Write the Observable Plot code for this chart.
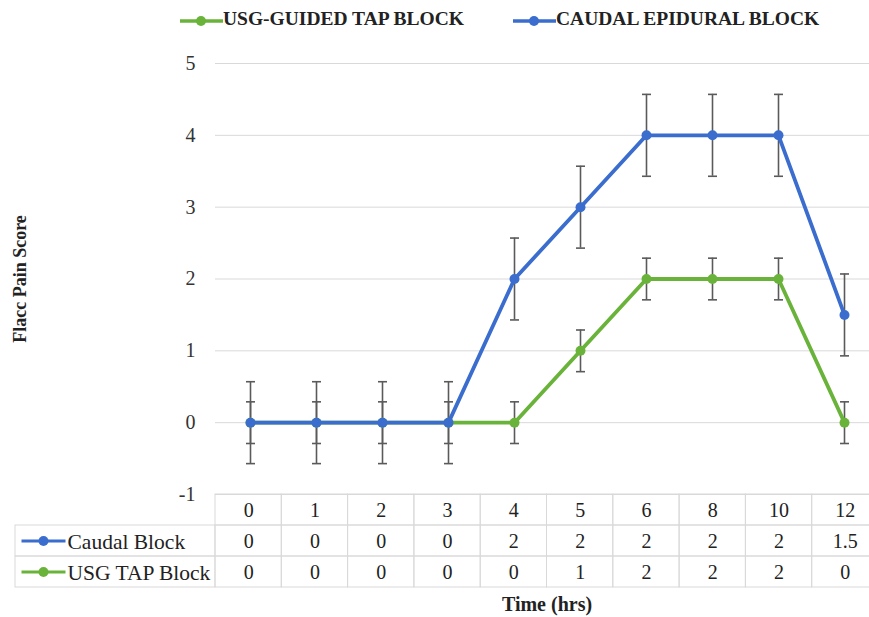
<!DOCTYPE html>
<html><head><meta charset="utf-8">
<script src="https://cdn.jsdelivr.net/npm/d3@7"></script>
<script src="https://cdn.jsdelivr.net/npm/@observablehq/plot@0.6"></script>
<style>
body{margin:0;background:#fff;font-family:"Liberation Serif",serif;}
#wrap{position:relative;width:869px;height:617px;overflow:hidden;background:#fff;}
#legend{position:absolute;left:0;top:0;width:869px;height:40px;}
.sw{position:absolute;top:13px;}
.lt{position:absolute;top:7px;line-height:24px;font-weight:bold;font-size:19.5px;color:#222;white-space:nowrap;}
#main{position:absolute;left:0;top:40px;}
#table{position:absolute;left:0;top:494px;}
#xlabel{position:absolute;top:591px;left:447px;width:200px;line-height:26px;text-align:center;font-weight:bold;font-size:20px;color:#222;}
#ylabel{position:absolute;left:20px;top:279px;transform:translate(-50%,-50%) rotate(-90deg);font-weight:bold;font-size:18px;color:#222;white-space:nowrap;}
</style></head><body>
<div id="wrap">
  <div id="legend"></div>
  <div id="main"></div>
  <div id="ylabel">Flacc Pain Score</div>
  <div id="table"></div>
  <div id="xlabel">Time (hrs)</div>
</div>
<script>
// ---- data ----
const times = ["0","1","2","3","4","5","6","8","10","12"];
const caudalMean = [0, 0, 0, 0, 2, 3, 4, 4, 4, 1.5];
const caudalErr  = [0.57, 0.57, 0.57, 0.57, 0.57, 0.57, 0.57, 0.57, 0.57, 0.57];
const tapMean    = [0, 0, 0, 0, 0, 1, 2, 2, 2, 0];
const tapErr     = [0.29, 0.29, 0.29, 0.29, 0.29, 0.29, 0.29, 0.29, 0.29, 0.29];
const tableCaudal = ["0","0","0","0","2","2","2","2","2","1.5"];
const tableTap    = ["0","0","0","0","0","1","2","2","2","0"];
const yTicks = [-1, 0, 1, 2, 3, 4, 5];
const legendNames = ["USG-GUIDED TAP BLOCK", "CAUDAL EPIDURAL BLOCK"];
const rowLabels = ["Caudal Block", "USG TAP Block"];

// ---- style ----
const BLUE = "#3a6dce", GREEN = "#6ab33a", ERR = "#5a5a5a", GRID = "#d9d9d9";
const FONT = "Liberation Serif";

const caudal = times.map((t, i) => ({t, v: caudalMean[i], e: caudalErr[i]}));
const tap = times.map((t, i) => ({t, v: tapMean[i], e: tapErr[i]}));

const capSymbol = {draw(ctx, size) { const w = Math.sqrt(size / Math.PI); ctx.moveTo(-w, 0); ctx.lineTo(w, 0); }};

function errMarks(data) {
  return [
    Plot.ruleX(data, {x: "t", y1: d => d.v - d.e, y2: d => d.v + d.e, stroke: ERR, strokeWidth: 1.6}),
    Plot.dot(data, {x: "t", y: d => d.v + d.e, symbol: capSymbol, r: 4.5, stroke: ERR, strokeWidth: 1.6, fill: "none"}),
    Plot.dot(data, {x: "t", y: d => d.v - d.e, symbol: capSymbol, r: 4.5, stroke: ERR, strokeWidth: 1.6, fill: "none"})
  ];
}

const main = Plot.plot({
  width: 869, height: 456,
  marginTop: 23, marginBottom: 2, marginLeft: 215, marginRight: 0,
  style: {background: "transparent", overflow: "visible", fontFamily: FONT, fontSize: "20px", color: "#333"},
  x: {type: "point", domain: times, range: [215, 878], padding: 0.5, axis: null},
  y: {domain: [-1, 5], ticks: yTicks, tickSize: 0, tickPadding: 20, tickFormat: d => String(d), label: null},
  marks: [
    Plot.ruleY(yTicks, {stroke: GRID, strokeWidth: 1}),
    ...errMarks(tap),
    ...errMarks(caudal),
    Plot.line(tap, {x: "t", y: "v", stroke: GREEN, strokeWidth: 3.8}),
    Plot.dot(tap, {x: "t", y: "v", fill: GREEN, r: 5}),
    Plot.line(caudal, {x: "t", y: "v", stroke: BLUE, strokeWidth: 3.8}),
    Plot.dot(caudal, {x: "t", y: "v", fill: BLUE, r: 5})
  ]
});
document.getElementById("main").appendChild(main);

// ---- data table (drawn with Plot) ----
const colW = 663 / times.length;   // pixel width of one column
const labelLeft = 15, labelW = 215 - labelLeft;
const labelStart = -labelW / colW;
const rowTexts = [times, tableCaudal, tableTap];
const cells = [];
rowTexts.forEach((arr, r) => arr.forEach((s, c) => cells.push({r, c, s})));
const rows = rowLabels.map((s, i) => ({r: i + 1, s, color: i === 0 ? BLUE : GREEN}));
const hline = {draw(ctx, size) { const w = Math.sqrt(size / Math.PI); ctx.moveTo(-w, 0); ctx.lineTo(w, 0); }};

const table = Plot.plot({
  width: 869, height: 100,
  marginTop: 0, marginBottom: 7, marginLeft: 0, marginRight: 0,
  style: {background: "transparent", overflow: "visible", fontFamily: FONT, fontSize: "20px", color: "#222"},
  x: {domain: [labelStart, times.length], range: [labelLeft, 878], axis: null},
  y: {domain: [0, 3], range: [0, 93], axis: null},
  marks: [
    Plot.rect(cells, {x1: d => d.c, x2: d => d.c + 1, y1: d => d.r, y2: d => d.r + 1, fill: "none", stroke: GRID}),
    Plot.rect(rows, {x1: labelStart, x2: 0, y1: d => d.r, y2: d => d.r + 1, fill: "none", stroke: GRID}),
    Plot.text(cells, {x: d => d.c + 0.5, y: d => d.r + 0.5, text: "s", fill: "#222", dy: 1}),
    Plot.dot(rows, {x: () => labelStart, y: d => d.r + 0.5, dx: 28, symbol: hline, r: 22, stroke: "color", strokeWidth: 3}),
    Plot.dot(rows, {x: () => labelStart, y: d => d.r + 0.5, dx: 28, r: 5, fill: "color"}),
    Plot.text(rows, {x: () => labelStart, y: d => d.r + 0.5, dx: 52, text: "s", textAnchor: "start", fill: "#222", dy: 1, fontSize: 21.5})
  ]
});
document.getElementById("table").appendChild(table);

// ---- legend ----
const legendColors = [GREEN, BLUE];
const legendLeft = [180, 513];
const lg = document.getElementById("legend");
legendNames.forEach((name, i) => {
  const sw = document.createElement("div");
  sw.className = "sw";
  sw.style.left = legendLeft[i] + "px";
  sw.innerHTML = `<svg width="43" height="12"><line x1="0" x2="43" y1="6" y2="6" stroke="${legendColors[i]}" stroke-width="3.5"/><circle cx="21" cy="6" r="5" fill="${legendColors[i]}"/></svg>`;
  lg.appendChild(sw);
  const t = document.createElement("div");
  t.className = "lt";
  t.style.left = (legendLeft[i] + 43) + "px";
  t.textContent = name;
  lg.appendChild(t);
});
</script>
</body></html>
